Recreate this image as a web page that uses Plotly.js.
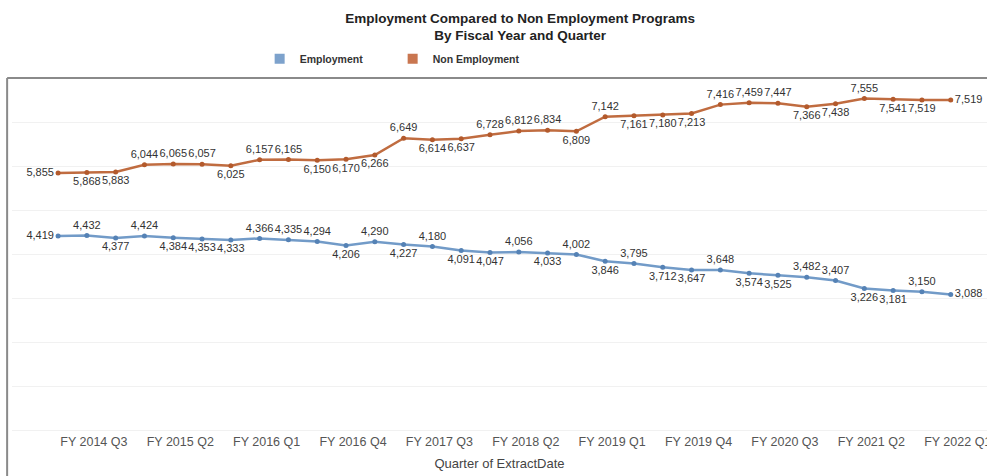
<!DOCTYPE html>
<html>
<head>
<meta charset="utf-8">
<script src="https://cdn.plot.ly/plotly-3.0.1.min.js"></script>
<style>html,body{margin:0;padding:0;background:#fff;}#chart{width:987px;height:476px;}</style>
</head>
<body>
<div id="chart"></div>
<script>
const quarters = [
  "FY 2014 Q2","FY 2014 Q3","FY 2014 Q4",
  "FY 2015 Q1","FY 2015 Q2","FY 2015 Q3","FY 2015 Q4",
  "FY 2016 Q1","FY 2016 Q2","FY 2016 Q3","FY 2016 Q4",
  "FY 2017 Q1","FY 2017 Q2","FY 2017 Q3","FY 2017 Q4",
  "FY 2018 Q1","FY 2018 Q2","FY 2018 Q3","FY 2018 Q4",
  "FY 2019 Q1","FY 2019 Q2","FY 2019 Q3","FY 2019 Q4",
  "FY 2020 Q1","FY 2020 Q2","FY 2020 Q3","FY 2020 Q4",
  "FY 2021 Q1","FY 2021 Q2","FY 2021 Q3","FY 2021 Q4",
  "FY 2022 Q1"
];
const employment = [
  4419,4432,4377,4424,4384,4353,4333,4366,4335,4294,4206,4290,4227,4180,4091,4047,
  4056,4033,4002,3846,3795,3712,3647,3648,3574,3525,3482,3407,3226,3181,3150,3088
];
const nonEmployment = [
  5855,5868,5883,6044,6065,6057,6025,6157,6165,6150,6170,6266,6649,6614,6637,6728,
  6812,6834,6809,7142,7161,7180,7213,7416,7459,7447,7366,7438,7555,7541,7519,7519
];
const tickLabels = ["FY 2014 Q3","FY 2015 Q2","FY 2016 Q1","FY 2016 Q4","FY 2017 Q3",
  "FY 2018 Q2","FY 2019 Q1","FY 2019 Q4","FY 2020 Q3","FY 2021 Q2","FY 2022 Q1"];

const T = "top center", B = "bottom center", L = "middle left", R = "middle right";
const empPos = [L,T,B,T,B,B,B,T,T,T,B,T,B,T,B,B,T,B,T,B,T,B,B,T,B,B,T,T,B,B,T,R];
const nonPos = [L,B,B,T,T,T,B,T,T,B,B,B,T,B,B,T,T,T,B,T,B,B,B,T,T,T,B,B,T,B,B,R];

const labelFont = {family: "Liberation Sans, Arial, sans-serif", size: 11, color: "#333"};

const traces = [
  {
    x: quarters, y: nonEmployment, type: "scatter", mode: "lines+markers+text",
    name: "Non Employment", showlegend: false,
    line: {color: "#c06c40", width: 2.5},
    marker: {color: "#b35a2c", size: 5},
    texttemplate: "%{y:,.0f}", textposition: nonPos, textfont: labelFont,
    cliponaxis: false, hoverinfo: "skip"
  },
  {
    x: quarters, y: employment, type: "scatter", mode: "lines+markers+text",
    name: "Employment", showlegend: false,
    line: {color: "#729bc8", width: 2.5},
    marker: {color: "#5582b5", size: 5},
    texttemplate: "%{y:,.0f}", textposition: empPos, textfont: labelFont,
    cliponaxis: false, hoverinfo: "skip"
  },
  {x: [null], y: [null], type: "scatter", mode: "markers", name: "Employment",
   marker: {symbol: "square", size: 10, color: "#7da2cc"}},
  {x: [null], y: [null], type: "scatter", mode: "markers", name: "Non Employment",
   marker: {symbol: "square", size: 10, color: "#c97650"}}
];

const layout = {
  width: 987, height: 476,
  margin: {l: 12, r: 0, t: 79, b: 46},
  paper_bgcolor: "#fff", plot_bgcolor: "#fff",
  font: {family: "Liberation Sans, Arial, sans-serif", color: "#333"},
  title: {
    text: "<b>Employment Compared to Non Employment Programs</b><br><b>By Fiscal Year and Quarter</b>",
    font: {size: 13.5, color: "#222"},
    xref: "container", yref: "container",
    x: 0.527, xanchor: "center", y: 0.952, yanchor: "middle"
  },
  showlegend: true,
  legend: {
    orientation: "h", x: 0.254, xanchor: "left", y: 1.058, yanchor: "middle",
    font: {size: 10.5, color: "#333", weight: "bold"},
    entrywidth: 88, traceorder: "normal", bgcolor: "rgba(0,0,0,0)"
  },
  xaxis: {
    type: "category", categoryorder: "array", categoryarray: quarters,
    range: [-1.6, 32.26],
    tickvals: tickLabels, ticktext: tickLabels,
    showgrid: false, zeroline: false, showline: false, ticks: "",
    tickfont: {size: 12.5, color: "#555"},
    ticklabelshift: 7, ticklabelstandoff: 2, ticklabeloverflow: "allow",
    title: {text: "Quarter of ExtractDate", font: {size: 13, color: "#444"}, standoff: 11}
  },
  yaxis: {
    range: [0, 8000], dtick: 1000, showticklabels: false, ticks: "",
    showgrid: true, gridcolor: "#f1f1f1", gridwidth: 1,
    zeroline: true, zerolinecolor: "#f1f1f1", showline: false
  },
  shapes: [
    {type: "line", xref: "paper", yref: "paper", x0: -0.005, x1: 1.01, y0: 1.003, y1: 1.003,
     line: {color: "#8a8a8a", width: 2}},
    {type: "line", xref: "paper", yref: "paper", x0: -0.005, x1: -0.005, y0: 1.003, y1: -0.2,
     line: {color: "#8a8a8a", width: 2}}
  ]
};

Plotly.newPlot("chart", traces, layout, {displayModeBar: false, staticPlot: true});
</script>
</body>
</html>
